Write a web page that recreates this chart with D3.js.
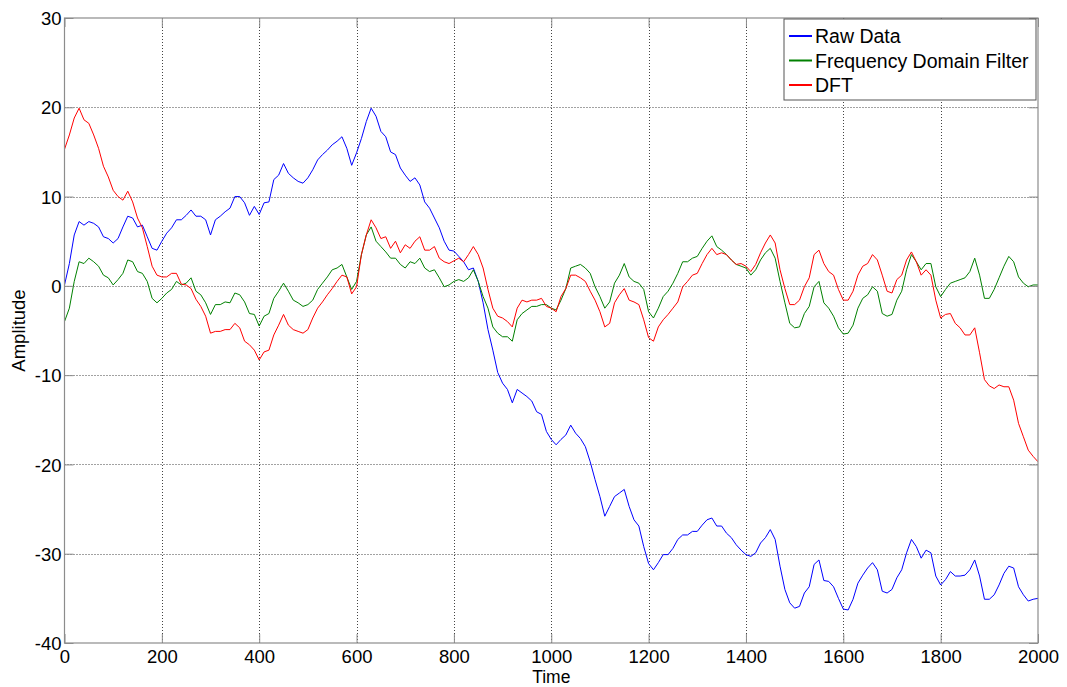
<!DOCTYPE html>
<html>
<head>
<meta charset="utf-8">
<script src="https://cdn.jsdelivr.net/npm/d3@7"></script>
<style>
  html, body { margin: 0; padding: 0; background: #fff; }
  svg { display: block; font-family: Arial, "Liberation Sans", sans-serif; }
</style>
</head>
<body>
<svg id="chart" width="1067" height="687"></svg>
<script>
const seriesNames = ["Raw Data", "Frequency Domain Filter", "DFT"];
const seriesColors = ["#0000ff", "#008000", "#ff0000"];
const xTicks = [0, 200, 400, 600, 800, 1000, 1200, 1400, 1600, 1800, 2000];
const yTicks = [-40, -30, -20, -10, 0, 10, 20, 30];
const time = d3.range(0, 2001, 10);

const rawData = [
  0.1, 2.5, 5.7, 7.2, 6.8, 7.2, 7.0, 6.6, 5.5, 5.3,
  4.8, 5.3, 6.6, 7.8, 7.6, 6.6, 6.8, 5.5, 4.2, 4.0,
  5.0, 5.9, 6.5, 7.4, 7.4, 7.9, 8.5, 7.8, 7.8, 7.4,
  5.7, 7.4, 7.8, 8.3, 8.7, 10.0, 10.0, 9.3, 7.9, 8.9,
  8.0, 9.3, 9.4, 11.9, 12.4, 13.7, 12.6, 12.1, 11.7, 11.5,
  12.1, 13.0, 14.1, 14.7, 15.2, 15.8, 16.2, 16.7, 15.4, 13.5,
  14.9, 16.5, 18.4, 19.9, 19.0, 17.3, 16.7, 15.0, 14.7, 13.2,
  12.4, 11.7, 12.1, 11.3, 9.4, 8.7, 7.6, 6.5, 5.0, 4.0,
  3.9, 3.3, 2.7, 1.8, 2.0, 0.5, -1.9, -4.9, -7.2, -9.7,
  -10.9, -11.6, -13.1, -11.6, -12.0, -12.4, -12.9, -14.1, -14.4, -16.3,
  -17.2, -17.8, -17.2, -16.7, -15.6, -16.5, -17.1, -18.0, -19.7, -21.7,
  -23.6, -25.8, -24.7, -23.6, -23.2, -22.8, -24.7, -26.2, -26.9, -29.2,
  -31.1, -31.8, -31.0, -30.1, -30.1, -29.4, -28.4, -27.9, -27.9, -27.5,
  -27.5, -26.8, -26.2, -26.0, -26.9, -26.9, -27.7, -28.2, -29.0, -29.6,
  -30.1, -30.3, -29.9, -28.8, -28.2, -27.3, -28.4, -31.4, -34.0, -35.5,
  -36.1, -35.9, -34.4, -33.7, -31.2, -30.7, -33.0, -33.1, -33.7, -35.0,
  -36.2, -36.3, -35.1, -33.3, -32.4, -31.6, -31.0, -31.8, -34.2, -34.4,
  -34.0, -32.7, -31.8, -29.9, -28.4, -29.2, -30.5, -29.6, -29.9, -32.5,
  -33.5, -32.9, -32.0, -32.5, -32.5, -32.4, -31.8, -30.7, -32.5, -35.1,
  -35.1, -34.6, -33.5, -32.2, -31.4, -31.6, -33.7, -34.6, -35.3, -35.1,
  -35.0
];

const freqFilter = [
  -4.0, -2.5, 0.5, 2.7, 2.5, 3.1, 2.7, 2.2, 1.2, 0.9,
  0.1, 0.7, 1.4, 2.9, 2.7, 1.6, 1.4, 0.5, -1.4, -1.9,
  -1.4, -0.8, -0.4, 0.5, 0.1, 0.3, 0.9, -0.6, -1.0, -1.9,
  -3.2, -2.1, -2.1, -1.8, -1.9, -0.8, -1.0, -1.8, -3.1, -3.2,
  -4.5, -3.4, -3.1, -1.4, -0.6, 0.3, -0.6, -1.6, -1.9, -2.3,
  -2.1, -1.6, -0.4, 0.3, 1.0, 1.8, 2.0, 2.4, 1.0, -0.4,
  0.5, 3.5, 5.7, 6.6, 5.0, 4.4, 3.8, 3.1, 3.1, 2.4,
  2.0, 2.7, 2.5, 3.1, 2.0, 1.6, 1.8, 0.9, -0.1, 0.1,
  0.5, 0.7, 0.5, 0.9, 1.8, 0.5, -1.2, -2.5, -4.6, -5.3,
  -5.7, -5.7, -6.2, -3.8, -3.1, -2.7, -2.3, -2.3, -2.1, -2.1,
  -2.5, -2.7, -1.6, -0.3, 2.0, 2.2, 2.4, 2.0, 1.4, -0.1,
  -1.2, -2.5, -1.8, 0.3, 1.2, 2.5, 1.0, 0.5, 0.3, -0.4,
  -2.9, -3.6, -2.5, -1.2, -0.6, 0.3, 1.4, 2.7, 2.7, 3.1,
  3.3, 4.2, 5.0, 5.6, 4.4, 4.0, 3.5, 2.9, 2.4, 2.2,
  2.0, 1.2, 1.8, 2.9, 3.7, 4.2, 3.1, 0.5, -1.9, -4.2,
  -4.7, -4.6, -3.1, -2.3, -0.1, 0.5, -1.9, -2.5, -3.4, -4.7,
  -5.4, -5.3, -4.4, -2.5, -1.4, -1.0, -0.1, -0.6, -3.1, -3.4,
  -3.2, -1.6, -0.6, 1.8, 3.5, 2.7, 1.8, 2.5, 2.5, -0.1,
  -1.2, -0.4, 0.3, 0.5, 0.7, 0.9, 1.6, 3.1, 1.2, -1.4,
  -1.4, -0.4, 0.9, 2.2, 3.3, 2.7, 1.0, 0.3, -0.1, 0.1,
  0.1
];

const dft = [
  15.3, 16.9, 18.8, 19.9, 18.6, 18.2, 16.9, 15.4, 13.4, 12.2,
  10.7, 10.0, 9.6, 10.6, 9.4, 7.6, 6.5, 4.4, 2.2, 1.2,
  1.0, 1.0, 1.4, 1.4, 0.2, 0.1, -0.3, -1.5, -2.3, -3.4,
  -5.3, -5.1, -5.1, -4.9, -4.9, -4.2, -4.7, -6.2, -6.6, -7.2,
  -8.3, -7.4, -7.2, -5.5, -4.4, -3.2, -4.4, -4.9, -5.1, -5.3,
  -4.9, -3.6, -2.5, -1.8, -1.0, -0.3, 0.5, 1.2, 1.0, -0.9,
  -0.1, 3.5, 5.7, 7.4, 6.5, 5.3, 5.5, 4.2, 5.0, 3.7,
  4.6, 4.2, 5.0, 5.5, 4.0, 4.0, 4.4, 3.1, 2.7, 2.5,
  2.8, 3.1, 2.7, 3.5, 4.4, 3.5, 2.0, -0.4, -2.5, -3.4,
  -3.6, -4.0, -4.6, -2.5, -1.6, -1.8, -1.6, -1.6, -1.4, -2.3,
  -2.5, -2.9, -1.2, -0.3, 1.2, 1.2, 0.9, 0.5, -0.6, -1.6,
  -2.9, -4.6, -4.2, -1.9, -1.0, -0.3, -1.6, -1.8, -2.1, -3.8,
  -5.8, -6.2, -4.6, -3.8, -3.2, -2.5, -1.8, -0.1, 0.5, 1.2,
  1.4, 2.5, 3.5, 4.2, 3.5, 3.7, 3.5, 2.9, 2.4, 2.5,
  2.2, 1.6, 2.4, 3.7, 4.8, 5.7, 4.8, 1.8, -0.3, -2.1,
  -2.1, -1.6, -0.1, 0.9, 3.5, 4.0, 2.5, 1.6, 1.2, -0.4,
  -1.6, -1.6, -0.6, 1.2, 2.2, 2.5, 3.5, 2.9, 1.2, -0.6,
  -0.8, 0.7, 1.2, 2.9, 3.8, 2.7, 1.2, 1.8, 1.2, -1.6,
  -3.6, -3.2, -3.1, -4.2, -4.7, -5.5, -5.5, -4.7, -7.5, -10.5,
  -11.2, -11.5, -11.1, -11.3, -11.3, -12.8, -15.4, -16.9, -18.4, -19.1,
  -19.7
];

const seriesValues = [rawData, freqFilter, dft];

// ---- layout ----
const svg = d3.select("#chart");
const pL = 64.5, pR = 1038, pT = 18, pB = 643;
const pW = pR - pL, pH = pB - pT;

const x = d3.scaleLinear().domain([0, 2000]).range([pL, pR]);
const y = d3.scaleLinear().domain([-40, 30]).range([pB, pT]);

const FONT = 18.5;
const TITLE_FONT = 17.5;
const LEGEND_FONT = 19.5;
const FONT_FAMILY = "Arial, 'Liberation Sans', sans-serif";
const fmt = d => String(d); // ASCII hyphen-minus like the reference

// grid
const grid = svg.append("g").attr("class", "grid");
grid.selectAll("line.vx").data(xTicks.slice(1, -1)).join("line")
  .attr("x1", d => Math.round(x(d)) + 0.5).attr("x2", d => Math.round(x(d)) + 0.5)
  .attr("y1", pT).attr("y2", pB)
  .attr("stroke", "#444").attr("stroke-width", 1).attr("stroke-dasharray", "1,2");
grid.selectAll("line.hy").data(yTicks.slice(1, -1)).join("line")
  .attr("y1", d => Math.round(y(d)) + 0.5).attr("y2", d => Math.round(y(d)) + 0.5)
  .attr("x1", pL).attr("x2", pR)
  .attr("stroke", "#444").attr("stroke-width", 1).attr("stroke-dasharray", "1,2");

// lines
const clipId = "plotclip";
svg.append("clipPath").attr("id", clipId).append("rect")
  .attr("x", pL).attr("y", pT).attr("width", pW).attr("height", pH);

const lineGen = d3.line().x((d, i) => x(time[i])).y(d => y(d));
const linesG = svg.append("g").attr("clip-path", `url(#${clipId})`);
seriesValues.forEach((vals, k) => {
  linesG.append("path")
    .datum(vals)
    .attr("d", lineGen)
    .attr("fill", "none")
    .attr("stroke", seriesColors[k])
    .attr("stroke-width", 1)
    .attr("stroke-linejoin", "round");
});

// axes (inward ticks, MATLAB style)
const axisColor = "#8c8c8c";
const tickLen = 9;

const xAxisB = svg.append("g").attr("transform", `translate(0,${pB})`)
  .call(d3.axisBottom(x).tickValues(xTicks).tickFormat(fmt).tickSizeInner(-tickLen).tickSizeOuter(0));
const xAxisT = svg.append("g").attr("transform", `translate(0,${pT})`)
  .call(d3.axisTop(x).tickValues(xTicks).tickFormat("").tickSizeInner(-tickLen).tickSizeOuter(0));
const yAxisL = svg.append("g").attr("transform", `translate(${pL},0)`)
  .call(d3.axisLeft(y).tickValues(yTicks).tickFormat(fmt).tickSizeInner(-tickLen).tickSizeOuter(0));
const yAxisR = svg.append("g").attr("transform", `translate(${pR},0)`)
  .call(d3.axisRight(y).tickValues(yTicks).tickFormat("").tickSizeInner(-tickLen).tickSizeOuter(0));

[xAxisB, xAxisT, yAxisL, yAxisR].forEach(g => {
  g.select(".domain").remove();
  g.selectAll(".tick line").attr("stroke", axisColor);
  g.selectAll("text").attr("fill", "#000").style("font-size", FONT + "px")
    .style("font-family", FONT_FAMILY);
});
xAxisB.selectAll(".tick text").attr("y", 19.5).attr("dy", 0);
yAxisL.selectAll(".tick text").attr("x", -3).attr("dy", "0.36em");

// frame
svg.append("rect").attr("x", pL).attr("y", pT).attr("width", pW).attr("height", pH)
  .attr("fill", "none").attr("stroke", axisColor).attr("stroke-width", 1.2);

// axis titles
svg.append("text").attr("x", (pL + pR) / 2).attr("y", 683.2)
  .attr("text-anchor", "middle").style("font-size", TITLE_FONT + "px")
  .style("font-family", FONT_FAMILY).text("Time");
svg.append("text").attr("transform", `translate(25,${(pT + pB) / 2}) rotate(-90)`)
  .attr("text-anchor", "middle").style("font-size", FONT + "px")
  .style("font-family", FONT_FAMILY).text("Amplitude");

// legend
const lg = svg.append("g");
const lgX = 784, lgY = 19, lgW = 252, lgH = 81;
lg.append("rect").attr("x", lgX).attr("y", lgY).attr("width", lgW).attr("height", lgH)
  .attr("fill", "#fff").attr("stroke", "#555").attr("stroke-width", 1);
seriesNames.forEach((name, k) => {
  const cy = 36 + k * 24.5;
  lg.append("line").attr("x1", 789).attr("x2", 812).attr("y1", cy).attr("y2", cy)
    .attr("stroke", seriesColors[k]).attr("stroke-width", 2);
  lg.append("text").attr("x", 815).attr("y", cy).attr("dy", "0.36em")
    .style("font-size", LEGEND_FONT + "px").style("font-family", FONT_FAMILY)
    .attr("fill", "#000").text(name);
});
</script>
</body>
</html>
